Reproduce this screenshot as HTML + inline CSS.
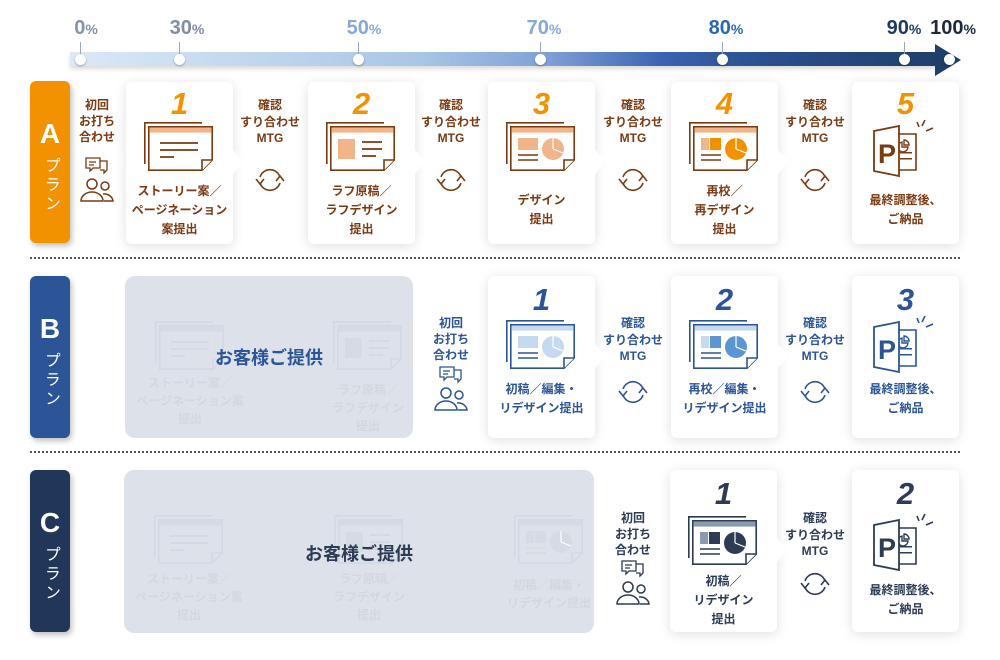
<!DOCTYPE html>
<html><head><meta charset="utf-8">
<style>
*{margin:0;padding:0;box-sizing:border-box}
body{width:1000px;height:660px;background:#fff;position:relative;overflow:hidden;font-family:"Liberation Sans","Noto Sans CJK JP",sans-serif;font-weight:bold}
.a{position:absolute}
.pct{position:absolute;top:17px;font-size:20px;font-weight:bold;transform:translateX(-50%);white-space:nowrap}
.pct small{font-size:14px}
.tick{position:absolute;top:42px;width:1px;height:16px;background:#9aa8bb}
.dot{position:absolute;top:54px;width:11px;height:11px;border-radius:50%;background:#fff;box-shadow:0 1px 2px rgba(0,0,0,.3)}
.plan{position:absolute;left:30px;width:40px;height:162px;border-radius:6px;color:#fff;text-align:center;box-shadow:2px 3px 6px rgba(0,0,0,.25)}
.plan b{display:block;margin-top:38px;font-size:28px;line-height:30px}
.plan span{display:inline-block;writing-mode:vertical-rl;margin-top:8px;font-size:16px;letter-spacing:3px;font-weight:normal}
.card{position:absolute;width:107px;height:162px;background:#fff;border-radius:6px;box-shadow:0 2px 12px rgba(0,0,0,.13)}
.card:after{content:"";position:absolute;right:-11px;top:68px;border-left:11px solid #fff;border-top:12px solid transparent;border-bottom:12px solid transparent}
.card.last:after{display:none}
.num{position:absolute;left:0;right:0;text-align:center;font-size:31px;font-style:italic;font-weight:bold;line-height:32px}
.ic{position:absolute;left:18px}
.tx{position:absolute;left:-6px;right:-6px;height:60px;display:flex;align-items:center;justify-content:center;text-align:center;font-size:12px;line-height:19px}
.mtg{position:absolute;width:80px;text-align:center;font-size:12px;line-height:16.5px;transform:translateX(-50%)}
.cy{position:absolute;transform:translate(-50%,-50%)}
.init{position:absolute;width:60px;text-align:center;font-size:12px;line-height:16px;transform:translateX(-50%)}
.gray{position:absolute;background:#dde2ea;border-radius:10px;overflow:hidden;--w:transparent}
.fade{position:absolute;color:#d3d8e0;font-size:12px;line-height:18px;text-align:center;width:120px}
.hr{position:absolute;left:30px;width:930px;border-top:2px dotted #555}
.A{color:#7a3a12}.B{color:#2c5597}.C{color:#2d3b55}
</style></head><body>
<svg width="0" height="0" style="position:absolute">
<defs>
<symbol id="docb" viewBox="0 0 70 50"><path d="M0.8,42 V0.8 H58" fill="none" stroke="currentColor" stroke-width="1.6"/><path d="M4.8,4.8 H68.2 V38 L58,48.2 H4.8 Z" fill="var(--w,#fff)" stroke="currentColor" stroke-width="1.6"/><rect x="5.6" y="5.6" width="61.8" height="5" fill="var(--f)"/><path d="M68.2,38 H58 V48.2" fill="var(--w,#fff)" stroke="currentColor" stroke-width="1.6"/></symbol>
<symbol id="d1" viewBox="0 0 70 50"><use href="#docb"/><path d="M16,21 H54 M16,28 H54 M16,35 H30" stroke="currentColor" stroke-width="1.8"/></symbol>
<symbol id="d2" viewBox="0 0 70 50"><use href="#docb"/><rect x="12" y="17" width="17" height="20" fill="var(--f)"/><path d="M36,20 H56 M36,27 H56 M36,34 H50" stroke="currentColor" stroke-width="1.8"/></symbol>
<symbol id="d3" viewBox="0 0 70 50"><use href="#docb"/><rect x="12" y="16" width="20" height="12" fill="var(--f)"/><path d="M12,33 H32 M12,38 H32" stroke="currentColor" stroke-width="1.6"/><circle cx="47" cy="27" r="11" fill="var(--f)"/><path d="M47,27 V16 M47,27 L57,31" stroke="#fff" stroke-width="1.2"/></symbol>
<symbol id="d4" viewBox="0 0 70 50"><use href="#docb"/><rect x="12" y="16" width="8" height="12" fill="var(--f)"/><rect x="21" y="16" width="11" height="12" fill="var(--g)"/><path d="M12,33 H32 M12,38 H32" stroke="currentColor" stroke-width="1.6"/><circle cx="47" cy="27" r="11" fill="var(--g)"/><path d="M47,27 V16 M47,27 L57,31" stroke="#fff" stroke-width="1.2"/></symbol>
<symbol id="pp" viewBox="0 0 70 60"><path d="M26,14 H46 V50 H26" fill="#fff" stroke="currentColor" stroke-width="1.6"/><path d="M32,22 a5,5 0 1,0 6,5 h-6 z M34,20 v5 h5 a5,5 0 0,0 -5,-5z" fill="none" stroke="currentColor" stroke-width="1.4"/><rect x="30" y="32" width="12" height="1.5" fill="currentColor"/><rect x="30" y="38" width="12" height="1.5" fill="currentColor"/><path d="M4,11 L29,6 V56 L4,51 Z" fill="#fff" stroke="currentColor" stroke-width="1.8"/><text x="8" y="43" font-family="Liberation Sans" font-weight="bold" font-size="27" fill="currentColor">P</text><path d="M47,2 l2,5 M55,0 l-3,6 M56,11 l7,-3" stroke="currentColor" stroke-width="1.6"/></symbol>
<symbol id="cy" viewBox="0 0 30 30"><path d="M5,12 A10.5,10.5 0 0 1 25,12 M25,18 A10.5,10.5 0 0 1 5,18" fill="none" stroke="currentColor" stroke-width="1.6"/><path d="M1,14 L5,19 L9,14 M21,16 L25,11 L29,16" fill="none" stroke="currentColor" stroke-width="1.6"/></symbol>
<symbol id="ppl" viewBox="0 0 34 50"><path d="M6,3 H20 V13 H13 L10,16 V13 H6 Z" fill="#fff" stroke="currentColor" stroke-width="1.3"/><path d="M20,6 H27 V15 L24,18 V15 H20" fill="none" stroke="currentColor" stroke-width="1.3"/><path d="M9,7 H16 M9,10 H14" stroke="currentColor" stroke-width="1.2"/><circle cx="12" cy="29" r="5" fill="none" stroke="currentColor" stroke-width="1.5"/><path d="M1,46 a11,9 0 0 1 22,0 Z" fill="none" stroke="currentColor" stroke-width="1.5"/><circle cx="25" cy="31" r="4" fill="none" stroke="currentColor" stroke-width="1.5"/><path d="M23,39 a9,8 0 0 1 10,7 H24" fill="none" stroke="currentColor" stroke-width="1.5"/></symbol>
</defs></svg>

<!-- timeline -->
<div class="a" style="left:70px;top:52px;width:875px;height:14px;background:linear-gradient(90deg,#dce9f6 0%,#a9c6e6 40%,#7d9fd6 55%,#3a62ae 68%,#2a4f8c 80%,#1f3f6a 100%);box-shadow:0 3px 5px rgba(0,0,0,.15)"></div>
<svg class="a" style="left:935px;top:44px" width="28" height="32"><path d="M0,0 L26,16 L0,32 Z" fill="#1f3f6a"/></svg>
<div class="tick" style="left:80px"></div><div class="dot" style="left:75px"></div>
<div class="tick" style="left:179px"></div><div class="dot" style="left:174px"></div>
<div class="tick" style="left:358px"></div><div class="dot" style="left:353px"></div>
<div class="tick" style="left:540px"></div><div class="dot" style="left:535px"></div>
<div class="tick" style="left:722px"></div><div class="dot" style="left:717px"></div>
<div class="tick" style="left:904px"></div><div class="dot" style="left:899px"></div>
<div class="dot" style="left:944px"></div>
<div class="pct" style="left:86px;color:#8494ab">0<small>%</small></div>
<div class="pct" style="left:187px;color:#7f8ea6">30<small>%</small></div>
<div class="pct" style="left:364px;color:#86a9dc">50<small>%</small></div>
<div class="pct" style="left:544px;color:#86a9dc">70<small>%</small></div>
<div class="pct" style="left:726px;color:#2b68b2">80<small>%</small></div>
<div class="pct" style="left:904px;color:#1f3a5f">90<small>%</small></div>
<div class="pct" style="left:953px;color:#1e2a3a">100<small>%</small></div>

<!-- Row A -->
<div class="plan" style="top:81px;background:#f39200"><b>A</b><span>プラン</span></div>
<div class="init A" style="left:97px;top:97px">初回<br>お打ち<br>合わせ</div>
<svg class="a A" style="left:80px;top:155px" width="34" height="50"><use href="#ppl"/></svg>

<div class="card A" style="left:126px;top:82px;--f:#f2b58a"><div class="num" style="top:6px;color:#f39200">1</div><svg class="ic" style="top:40px" width="70" height="50"><use href="#d1"/></svg><div class="tx" style="top:98px">ストーリー案／<br>ページネーション<br>案提出</div></div>
<div class="card A" style="left:308px;top:82px;--f:#f2b58a"><div class="num" style="top:6px;color:#f39200">2</div><svg class="ic" style="top:40px" width="70" height="50"><use href="#d2"/></svg><div class="tx" style="top:98px">ラフ原稿／<br>ラフデザイン<br>提出</div></div>
<div class="card A" style="left:488px;top:82px;--f:#f2b58a"><div class="num" style="top:6px;color:#f39200">3</div><svg class="ic" style="top:40px" width="70" height="50"><use href="#d3"/></svg><div class="tx" style="top:98px">デザイン<br>提出</div></div>
<div class="card A" style="left:671px;top:82px;--f:#f2b58a;--g:#f39200"><div class="num" style="top:6px;color:#f39200">4</div><svg class="ic" style="top:40px" width="70" height="50"><use href="#d4"/></svg><div class="tx" style="top:98px">再校／<br>再デザイン<br>提出</div></div>
<div class="card A last" style="left:852px;top:82px"><div class="num" style="top:6px;color:#f39200">5</div><svg class="ic" style="top:38px" width="70" height="60"><use href="#pp"/></svg><div class="tx" style="top:98px">最終調整後、<br>ご納品</div></div>

<div class="mtg A" style="left:270px;top:97px">確認<br>すり合わせ<br>MTG</div><svg class="cy A" style="left:270px;top:180px" width="30" height="30"><use href="#cy"/></svg>
<div class="mtg A" style="left:451px;top:97px">確認<br>すり合わせ<br>MTG</div><svg class="cy A" style="left:451px;top:180px" width="30" height="30"><use href="#cy"/></svg>
<div class="mtg A" style="left:633px;top:97px">確認<br>すり合わせ<br>MTG</div><svg class="cy A" style="left:633px;top:180px" width="30" height="30"><use href="#cy"/></svg>
<div class="mtg A" style="left:815px;top:97px">確認<br>すり合わせ<br>MTG</div><svg class="cy A" style="left:815px;top:180px" width="30" height="30"><use href="#cy"/></svg>

<div class="hr" style="top:257px"></div>

<!-- Row B -->
<div class="plan" style="top:276px;background:#2c5597"><b>B</b><span>プラン</span></div>
<div class="gray" style="left:125px;top:276px;width:288px;height:162px;--f:#d5dbe4;color:#d3d9e2">
<svg class="a" style="left:30px;top:45px" width="70" height="50"><use href="#d1"/></svg>
<svg class="a" style="left:208px;top:45px" width="70" height="50"><use href="#d2"/></svg>
<div class="fade" style="left:5px;top:98px">ストーリー案／<br>ページネーション案<br>提出</div>
<div class="fade" style="left:183px;top:105px">ラフ原稿／<br>ラフデザイン<br>提出</div>
<div class="a B" style="left:0;width:288px;top:68px;text-align:center;font-size:18px">お客様ご提供</div>
</div>
<div class="init B" style="left:451px;top:315px">初回<br>お打ち<br>合わせ</div>
<svg class="a B" style="left:434px;top:364px" width="34" height="50"><use href="#ppl"/></svg>

<div class="card B" style="left:488px;top:276px;--f:#c5daf0;--g:#5b95d3"><div class="num" style="top:8px">1</div><svg class="ic" style="top:44px" width="70" height="50"><use href="#d3"/></svg><div class="tx" style="top:93px">初稿／編集・<br>リデザイン提出</div></div>
<div class="card B" style="left:671px;top:276px;--f:#c5daf0;--g:#5b95d3"><div class="num" style="top:8px">2</div><svg class="ic" style="top:44px" width="70" height="50"><use href="#d4"/></svg><div class="tx" style="top:93px">再校／編集・<br>リデザイン提出</div></div>
<div class="card B last" style="left:852px;top:276px"><div class="num" style="top:8px">3</div><svg class="ic" style="top:40px" width="70" height="60"><use href="#pp"/></svg><div class="tx" style="top:93px">最終調整後、<br>ご納品</div></div>
<div class="mtg B" style="left:633px;top:315px">確認<br>すり合わせ<br>MTG</div><svg class="cy B" style="left:633px;top:392px" width="30" height="30"><use href="#cy"/></svg>
<div class="mtg B" style="left:815px;top:315px">確認<br>すり合わせ<br>MTG</div><svg class="cy B" style="left:815px;top:392px" width="30" height="30"><use href="#cy"/></svg>

<div class="hr" style="top:451px"></div>

<!-- Row C -->
<div class="plan" style="top:470px;background:#22365a"><b>C</b><span>プラン</span></div>
<div class="gray" style="left:124px;top:470px;width:470px;height:163px;--f:#d5dbe4;--g:#d5dbe4;color:#d3d9e2">
<svg class="a" style="left:30px;top:45px" width="70" height="50"><use href="#d1"/></svg>
<svg class="a" style="left:210px;top:45px" width="70" height="50"><use href="#d2"/></svg>
<svg class="a" style="left:390px;top:45px" width="70" height="50"><use href="#d4"/></svg>
<div class="fade" style="left:5px;top:100px">ストーリー案／<br>ページネーション案<br>提出</div>
<div class="fade" style="left:185px;top:100px">ラフ原稿／<br>ラフデザイン<br>提出</div>
<div class="fade" style="left:365px;top:106px">初稿／編集・<br>リデザイン提出</div>
<div class="a C" style="left:0;width:470px;top:70px;text-align:center;font-size:18px">お客様ご提供</div>
</div>
<div class="init C" style="left:633px;top:510px">初回<br>お打ち<br>合わせ</div>
<svg class="a C" style="left:616px;top:558px" width="34" height="50"><use href="#ppl"/></svg>

<div class="card C" style="left:670px;top:470px;--f:#8a9ab0;--g:#2d3b55"><div class="num" style="top:8px">1</div><svg class="ic" style="top:46px" width="70" height="50"><use href="#d4"/></svg><div class="tx" style="top:100px">初稿／<br>リデザイン<br>提出</div></div>
<div class="card C last" style="left:852px;top:470px"><div class="num" style="top:8px">2</div><svg class="ic" style="top:44px" width="70" height="60"><use href="#pp"/></svg><div class="tx" style="top:100px">最終調整後、<br>ご納品</div></div>
<div class="mtg C" style="left:815px;top:510px">確認<br>すり合わせ<br>MTG</div><svg class="cy C" style="left:815px;top:584px" width="30" height="30"><use href="#cy"/></svg>
</body></html>
